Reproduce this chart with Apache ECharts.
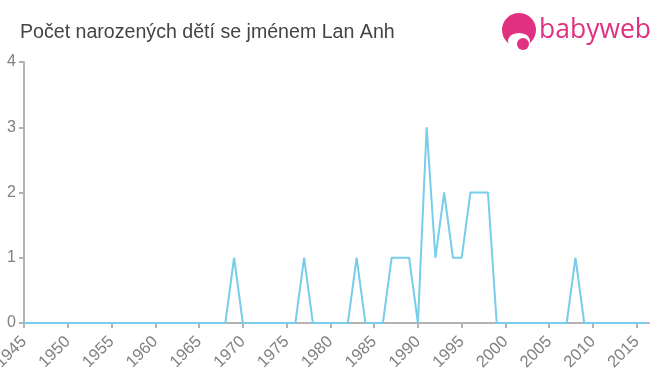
<!DOCTYPE html>
<html><head><meta charset="utf-8">
<script src="https://cdn.jsdelivr.net/npm/echarts@6/dist/echarts.min.js"></script>
<style>html,body{margin:0;padding:0;background:#fff}#c{width:660px;height:375px}</style>
</head><body><div id="c"></div>
<script>
const titleText = 'Počet narozených dětí se jménem Lan Anh';
const years = [1945,1946,1947,1948,1949,1950,1951,1952,1953,1954,1955,1956,1957,1958,1959,1960,1961,1962,1963,1964,1965,1966,1967,1968,1969,1970,1971,1972,1973,1974,1975,1976,1977,1978,1979,1980,1981,1982,1983,1984,1985,1986,1987,1988,1989,1990,1991,1992,1993,1994,1995,1996,1997,1998,1999,2000,2001,2002,2003,2004,2005,2006,2007,2008,2009,2010,2011,2012,2013,2014,2015,2016];
const counts = [0,0,0,0,0,0,0,0,0,0,0,0,0,0,0,0,0,0,0,0,0,0,0,0,1,0,0,0,0,0,0,0,1,0,0,0,0,0,1,0,0,0,1,1,1,0,3,1,2,1,1,2,2,2,0,0,0,0,0,0,0,0,0,1,0,0,0,0,0,0,0,0];
const yTicks = [0,1,2,3,4];

const chart = echarts.init(document.getElementById('c'), null, {renderer:'canvas'});
chart.setOption({
  animation:false,
  backgroundColor:'#fff',
  title:{text:titleText,left:15,top:18,textStyle:{fontFamily:'Liberation Sans, Arial, sans-serif',fontSize:19.6,fontWeight:'normal',color:'#444'}},
  graphic:[
    {type:'circle',shape:{cx:519,cy:30,r:17},style:{fill:'#e0307f'}},
    {type:'ellipse',shape:{cx:519,cy:41,rx:11,ry:8},style:{fill:'#fff'}},
    {type:'circle',shape:{cx:523,cy:44,r:6},style:{fill:'#e0307f'}},
    {type:'text',left:539,top:17,style:{text:'babyweb',fill:'#e0307f',font:'normal 26.5px "Open Sans", Arial, sans-serif'}}
  ],
  grid:{left:24,right:11,top:62,bottom:52,containLabel:false,outerBoundsMode:'none'},
  xAxis:{type:'value',min:1945,max:2016.4,interval:5,
    axisLine:{lineStyle:{color:'#b3b3b3',width:2}},
    axisTick:{show:true,length:5,lineStyle:{color:'#b3b3b3',width:2}},
    splitLine:{show:false},
    axisLabel:{rotate:45,color:'#808080',fontSize:16.5,fontFamily:'Liberation Sans, Arial, sans-serif',margin:16,showMaxLabel:false,
      formatter:v=>String(v)}},
  yAxis:{type:'value',min:0,max:4,interval:1,
    axisLine:{show:true,lineStyle:{color:'#b3b3b3',width:2}},
    axisTick:{show:true,length:5,lineStyle:{color:'#b3b3b3',width:2}},
    splitLine:{show:false},
    axisLabel:{color:'#808080',fontSize:16,fontFamily:'Liberation Sans, Arial, sans-serif',margin:8,
      customValues:yTicks}},
  series:[{type:'line',data:years.map((y,i)=>[y,counts[i]]),showSymbol:false,symbol:'none',
    lineStyle:{color:'#77cdea',width:2},itemStyle:{color:'#77cdea'},z:3}]
});
</script></body></html>
